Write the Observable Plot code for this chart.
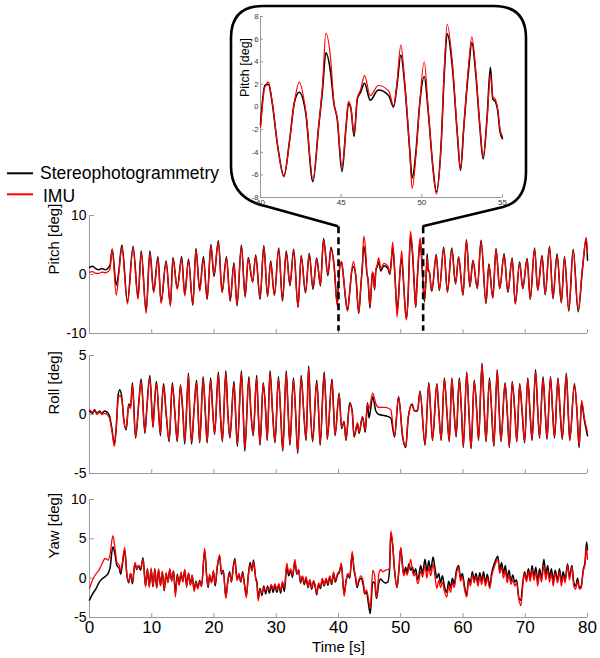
<!DOCTYPE html>
<html><head><meta charset="utf-8">
<script src="https://cdn.jsdelivr.net/npm/d3@7"></script>
<script src="https://cdn.jsdelivr.net/npm/@observablehq/plot@0.6"></script>
<style>
body{margin:0;background:#fff;}
#root{position:relative;width:600px;height:658px;overflow:hidden;font-family:"Liberation Sans",Arial,sans-serif;}
#root > svg{position:absolute;left:0;}
</style></head>
<body><div id="root"></div>
<script>
// ---------- labels, ticks ----------
const seriesNames = ["Stereophotogrammetry", "IMU"];
const seriesColors = ["#000000", "#ff0000"];
const panelLabels = ["Pitch [deg]", "Roll [deg]", "Yaw [deg]"];
const xLabel = "Time [s]";
const xTicks = [0, 10, 20, 30, 40, 50, 60, 70, 80];
const pitchTicks = [-10, 0, 10];
const rollTicks = [-5, 0, 5];
const yawTicks = [-5, 0, 5, 10];
const insetXTicks = [40, 45, 50, 55];
const insetYTicks = [-8, -6, -4, -2, 0, 2, 4, 6, 8];
const zoomWindow = [40, 55];        // inset time range
const zoomMarkers = [40, 53.6];     // dashed markers in the pitch panel
const zoomMarkerSpan = [8.1, -9.6]; // vertical extent of the markers (deg)

// ---------- Pitch ----------
const pitchTime = [
0,0.5,1.0,1.5,2.0,2.5,3.0,3.3,3.65,4.3,
4.7,5.2,6.1,7.0,7.8,8.3,9.1,9.7,10.3,11.0,
11.5,12.3,13.0,13.4,14.1,14.8,15.3,15.9,16.6,17.1,
17.7,18.3,18.9,19.5,20.0,20.7,21.3,22.0,22.6,23.2,
23.7,24.4,25.0,25.5,26.2,26.7,27.4,28.0,28.6,29.1,
29.7,30.4,31.0,31.6,32.2,32.8,33.5,34.0,34.7,35.3,
35.9,36.5,37.1,37.6,38.3,38.8,39.3,39.8,40.0,40.27,
40.5,40.7,41.1,41.45,41.8,42.1,42.4,42.8,43.25,43.6,
43.85,44.05,44.35,44.55,44.75,45.05,45.3,45.45,45.6,45.8,
46.0,46.2,46.45,46.8,47.3,47.95,48.25,48.45,48.7,48.95,
49.25,49.4,49.65,49.85,50.15,50.4,50.7,50.9,51.2,51.4,
51.57,51.9,52.2,52.4,52.6,52.9,53.1,53.35,53.6,53.8,
54.05,54.25,54.4,54.55,54.7,54.85,55.0,55.7,56.2,56.9,
57.5,58.2,58.8,59.3,60.0,60.55,61.1,61.6,62.3,62.9,
63.7,64.15,64.8,65.3,65.9,66.6,67.2,67.9,68.4,69.1,
69.6,70.3,70.8,71.5,72.0,72.7,73.2,73.9,74.45,75.1,
75.8,76.3,77.0,77.7,78.5,79.2,79.8,80.0];
const pitchStereo = [
1.2,1.4,1.0,0.8,1.0,0.8,1.1,1.6,4.3,-1.8,
0.5,5.0,-4.6,4.8,-3.9,4.0,-6.2,4.0,-2.8,3.0,
-4.7,2.3,-5.2,2.9,-2.3,3.0,-3.4,2.6,-5.2,4.4,
-2.6,3.0,-4.2,5.1,-0.3,5.7,-2.9,3.0,-4.5,2.0,
-5.3,5.0,-3.8,2.9,-1.3,3.3,-4.2,4.9,-3.7,2.3,
-3.5,4.5,-4.5,4.0,-1.9,4.3,-5.5,3.2,-3.1,3.6,
-2.5,2.8,-1.9,6.1,-0.2,4.6,1.5,-5.0,-1.6,1.9,
2.0,0.6,-3.8,-6.1,-3.0,0.4,1.3,-0.5,-6.6,-1.8,
1.6,4.8,3.0,0.3,-1.0,-5.7,-1.8,0.3,-0.1,-2.6,
0.7,1.3,2.1,0.6,1.5,1.0,0.0,1.8,4.6,1.8,
-3.8,-6.3,-3.7,0.0,2.7,-0.5,-5.5,-7.5,-3.2,3.2,
6.5,3.4,-2.4,-5.6,-1.8,3.3,5.7,2.8,-1.8,-4.6,
-0.8,3.5,0.7,0.5,-0.3,-2.2,-2.8,3.4,-2.7,4.6,
-3.0,4.5,-1.6,3.0,-3.5,5.9,-2.1,2.4,-2.4,5.8,
-4.9,1.8,-4.0,4.4,-2.4,3.5,-3.0,2.8,-5.0,2.1,
-2.4,2.7,-4.2,4.5,-2.7,3.2,-3.4,4.8,-4.1,3.5,
-4.8,3.0,-6.2,4.3,-6.3,1.0,6.0,2.4];
const pitchIMU = [
0.4,0.5,0.2,0.2,0.4,0.3,0.5,1.0,4.3,-3.5,
0.0,4.6,-5.0,4.4,-4.2,3.7,-6.6,3.6,-3.1,2.7,
-4.9,2.0,-5.4,2.7,-2.5,2.7,-3.6,2.3,-5.0,4.2,
-2.8,2.6,-4.0,4.8,0.0,5.5,-3.1,2.8,-4.3,1.7,
-5.1,4.8,-3.7,2.6,-1.2,3.1,-4.0,4.7,-3.5,2.0,
-3.5,4.3,-4.2,3.7,-1.7,4.0,-5.6,3.0,-2.9,3.4,
-2.3,2.6,-1.7,5.9,0.1,4.3,1.2,-5.3,-1.8,1.75,
2.2,0.7,-3.8,-6.2,-3.0,0.4,2.2,-0.3,-6.4,-1.8,
2.0,6.5,4.2,0.4,-0.9,-5.3,-1.8,0.5,0.0,-2.4,
0.8,1.5,2.8,1.0,1.9,1.4,0.1,2.0,5.5,2.0,
-3.9,-7.2,-4.0,0.0,4.0,-0.3,-5.6,-7.7,-3.3,3.6,
7.3,3.8,-2.3,-5.5,-1.8,3.7,6.2,3.1,-1.7,-4.4,
-0.9,2.9,0.9,0.7,-0.2,-2.0,-2.6,3.2,-2.6,4.4,
-2.9,4.3,-1.5,2.8,-3.4,5.7,-2.0,2.2,-2.3,5.6,
-4.8,1.5,-3.9,4.2,-2.3,3.3,-2.9,2.6,-4.9,1.9,
-2.3,2.5,-4.1,4.3,-2.6,3.0,-3.3,4.6,-4.0,3.3,
-4.6,2.8,-6.0,4.1,-6.0,1.2,6.3,3.6];

// ---------- Roll ----------
const rollTime = [
0,0.5,0.8,1.2,1.6,2.0,2.4,2.8,3.2,3.6,
4.0,4.3,4.6,4.85,5.2,5.5,5.9,6.3,6.6,6.9,
7.4,7.9,8.3,8.9,9.2,9.7,10.2,10.4,10.75,11.4,
11.6,11.9,12.3,12.8,13.3,13.7,14.1,14.6,15.0,15.3,
15.9,16.1,16.4,16.8,17.2,17.45,17.7,18.25,18.6,18.9,
19.45,19.8,20.1,20.7,21.0,21.35,21.9,22.2,22.55,23.2,
23.45,23.75,24.4,24.7,24.95,25.6,25.9,26.3,26.85,27.1,
27.4,27.9,28.3,28.55,29.0,29.4,29.8,30.35,30.7,31.05,
31.6,31.9,32.2,32.75,33.1,33.45,34.0,34.4,34.8,35.2,
35.5,35.85,36.5,36.8,37.05,37.7,38.0,38.2,38.95,39.2,
39.45,40.1,40.5,40.9,41.2,41.8,42.2,42.5,43.05,43.3,
43.85,44.3,44.65,44.9,45.5,46.0,46.5,47.5,48.4,49.0,
49.65,50.3,50.8,51.2,51.8,52.2,52.7,53.1,53.9,54.5,
54.8,55.1,55.8,56.1,56.5,57.0,57.4,57.8,58.2,58.55,
58.9,59.4,59.75,60.05,60.6,60.95,61.3,61.8,62.2,62.5,
63.05,63.4,63.7,64.25,64.6,64.95,65.5,65.8,66.1,66.75,
67.1,67.45,67.9,68.3,68.65,69.1,69.5,69.9,70.4,70.75,
71.1,71.65,72.0,72.3,72.85,73.2,73.5,74.05,74.4,74.7,
75.25,75.6,75.95,76.6,76.9,77.15,77.9,78.3,78.65,79.05,
79.5,80.0];
const rollStereo = [
0.3,0.1,0.4,0.1,0.3,0.1,0.3,0.2,-0.1,-1.2,
-2.5,-1.0,1.6,2.1,1.4,-0.4,-1.3,0.9,0.6,2.7,
-2.0,0.9,3.0,-1.6,0.5,3.3,-1.1,0.6,2.8,-1.8,
0.5,2.6,0.2,-2.3,2.7,0.2,-2.3,2.5,0.2,-2.5,
3.5,0.3,-2.5,0.5,2.9,0.1,-2.4,3.2,0.2,-2.4,
3.1,0.3,-1.7,3.6,0.3,-2.3,3.7,0.4,-2.0,2.8,
0.3,-2.7,3.7,0.1,-3.1,3.2,0.4,-1.8,3.3,0.3,
-2.6,2.7,0.2,-2.2,3.7,0.3,-2.4,3.2,0.2,-3.1,
3.7,0.4,-2.6,3.1,0.3,-3.3,3.3,0.3,-2.2,4.1,
0.2,-2.3,2.9,0.3,-2.6,3.6,0.5,-2.1,3.0,0.5,
-1.8,1.8,-1.2,-0.6,-2.2,1.0,0.3,-1.9,-0.8,-1.6,
-0.2,-1.5,1.0,-0.3,1.5,0.3,0.0,-0.1,-0.3,-1.9,
1.5,-1.9,-2.8,-0.3,0.9,0.3,0.3,2.0,-2.6,2.7,
0.3,-2.2,2.6,0.4,-2.2,3.1,0.3,-2.3,3.1,0.4,
-1.9,3.1,0.3,-2.8,3.6,0.2,-2.9,2.9,0.4,-2.2,
4.35,0.5,-2.3,3.1,0.3,-2.7,3.8,0.5,-2.3,2.7,
0.3,-2.8,2.8,0.4,-2.3,2.6,0.2,-2.4,3.1,0.3,
-2.2,3.8,0.4,-2.0,3.2,0.3,-2.1,3.2,0.2,-2.0,
3.1,0.3,-2.1,3.5,0.2,-2.2,2.6,0.3,-2.8,1.0,
-0.5,-1.8];
const rollIMU = [
0.4,0.2,0.3,0.0,0.2,0.0,0.1,0.0,-0.3,-1.4,
-2.7,-1.2,1.3,1.6,1.3,-0.5,-1.2,0.8,0.5,2.5,
-1.9,0.8,2.8,-1.5,0.4,3.1,-1.0,0.5,2.6,-1.6,
0.4,2.4,0.1,-2.2,2.5,0.3,-2.2,2.4,0.1,-2.3,
3.3,0.4,-2.3,0.4,2.7,0.2,-2.3,3.0,0.3,-2.3,
2.9,0.2,-1.6,3.4,0.2,-2.2,3.5,0.3,-1.9,2.6,
0.4,-2.5,3.5,0.2,-2.9,3.0,0.5,-1.7,3.1,0.2,
-2.5,2.6,0.3,-2.1,3.5,0.2,-2.3,3.0,0.3,-3.0,
3.5,0.3,-2.5,2.9,0.2,-3.2,3.1,0.4,-2.1,3.9,
0.3,-2.2,2.7,0.2,-2.5,3.4,0.4,-2.0,2.8,0.6,
-1.7,1.7,-1.1,-0.7,-2.1,0.9,0.2,-1.8,-0.7,-1.5,
-0.2,-1.3,0.9,0.5,1.8,0.9,0.6,0.6,0.4,-1.8,
1.5,-1.8,-2.7,-0.2,0.8,0.3,0.4,1.9,-2.5,2.6,
0.4,-2.1,2.5,0.3,-2.1,3.0,0.4,-2.2,3.0,0.3,
-1.8,2.9,0.4,-2.7,3.5,0.3,-2.8,2.8,0.3,-2.1,
4.2,0.6,-2.2,2.9,0.4,-2.6,3.7,0.4,-2.2,2.6,
0.4,-2.7,2.7,0.5,-2.2,2.5,0.3,-2.3,3.0,0.4,
-2.1,3.6,0.5,-1.9,3.0,0.4,-2.0,3.1,0.3,-1.9,
3.0,0.4,-2.0,3.4,0.3,-2.1,2.5,0.4,-2.6,1.2,
-0.3,-1.5];

// ---------- Yaw ----------
const yawTime = [
0,0.5,1.0,1.5,2.0,2.5,3.0,3.3,3.75,4.1,
4.4,4.8,5.0,5.3,5.65,6.0,6.3,6.6,6.9,7.3,
7.6,7.9,8.2,8.6,9.0,9.3,9.6,9.9,10.2,10.5,
10.8,11.1,11.4,11.7,12.0,12.3,12.6,12.9,13.2,13.5,
13.8,14.1,14.4,14.7,15.0,15.3,15.6,15.9,16.2,16.5,
16.8,17.1,17.4,17.7,18.0,18.5,18.8,19.05,19.3,19.6,
19.9,20.2,20.5,20.9,21.2,21.5,21.9,22.2,22.5,22.8,
23.1,23.35,23.7,24.0,24.3,24.6,24.9,25.2,25.5,25.8,
26.1,26.35,26.7,26.9,27.1,27.4,27.7,28.0,28.3,28.6,
28.9,29.2,29.5,29.8,30.1,30.4,30.7,31.0,31.3,31.7,
32.0,32.3,32.6,33.0,33.3,33.6,33.9,34.2,34.5,34.8,
35.1,35.4,35.7,36.0,36.3,36.5,36.8,37.1,37.4,37.7,
38.0,38.3,38.6,38.9,39.2,39.5,39.8,40.2,40.45,40.9,
41.2,41.5,41.8,42.2,42.5,42.7,43.0,43.2,43.6,44.0,
44.2,44.5,44.8,45.1,45.5,45.8,46.1,46.5,46.8,47.1,
47.5,47.9,48.2,48.4,48.7,49.0,49.4,49.7,50.0,50.3,
50.5,50.8,51.0,51.3,51.6,51.9,52.1,52.4,52.7,52.9,
53.2,53.5,53.9,54.2,54.5,54.8,55.2,55.5,55.8,56.1,
56.4,56.7,57.0,57.4,57.7,58.0,58.3,58.6,58.9,59.3,
59.6,59.9,60.2,60.6,60.9,61.2,61.5,61.8,62.1,62.4,
62.7,63.0,63.3,63.6,63.9,64.3,64.6,65.1,65.6,65.9,
66.2,66.5,66.8,67.1,67.4,67.7,68.0,68.3,68.6,69.0,
69.3,69.6,69.9,70.2,70.5,70.8,71.1,71.4,71.7,72.0,
72.3,72.6,73.0,73.3,73.6,73.9,74.2,74.5,74.8,75.2,
75.5,75.8,76.1,76.4,76.8,77.1,77.5,77.8,78.1,78.4,
78.7,79.0,79.3,79.6,79.85,80.0];
const yawStereo = [
-2.8,-2.0,-1.4,-0.6,-0.1,0.2,0.6,1.3,4.0,3.0,
1.6,1.2,0.5,1.8,3.6,0.4,-0.6,0.6,-0.7,1.9,
1.1,1.6,1.0,2.6,-1.0,1.2,-1.0,1.1,-1.1,1.2,
-1.2,1.0,-0.9,0.8,-1.6,0.6,-0.5,1.1,-0.3,0.9,
-1.9,0.5,-0.8,0.6,-0.4,1.0,-0.9,0.6,-0.8,0.3,
-1.5,-0.4,-1.2,-0.3,-1.0,3.5,0.5,-1.2,0.3,-0.5,
0.8,-1.0,1.2,2.8,0.5,1.0,-2.4,-0.5,0.8,-0.5,
1.5,2.5,-0.2,0.5,-0.5,0.8,-0.8,-2.2,0.3,2.0,
1.0,2.3,0.0,-0.5,-2.6,-1.3,-2.2,-1.0,-2.0,-1.0,
-1.9,-0.9,-1.8,-0.9,-1.8,-0.8,-1.9,-0.6,-1.7,1.5,
0.3,1.0,0.1,2.1,0.5,1.0,-0.6,0.2,-0.8,0.0,
-1.2,-0.3,-1.4,-0.4,-1.3,-2.1,-0.8,-1.3,-0.2,-1.0,
-0.1,-0.9,0.2,-0.8,0.6,-0.5,0.3,0.9,1.8,-2.0,
-0.5,0.5,0.0,3.1,1.0,0.2,-1.2,-0.6,0.0,-1.0,
-2.0,-1.8,-3.2,-4.5,-0.5,-0.6,-2.6,-0.5,-0.1,-0.4,
-0.6,-0.5,1.0,5.7,4.2,1.0,-1.2,1.0,3.8,1.5,
0.5,1.4,0.6,1.8,1.0,1.4,0.6,1.2,-0.2,0.3,
1.6,0.6,2.4,0.8,2.2,1.0,2.7,1.2,0.0,0.6,
-0.6,0.3,-1.0,-1.8,-0.4,-1.2,0.0,-0.8,0.8,1.6,
0.0,0.6,-0.8,-2.2,0.0,-0.6,0.8,-0.2,0.6,-0.6,
0.7,-0.4,0.8,-0.6,0.5,-1.0,0.6,2.0,2.8,1.0,
2.0,0.6,1.6,0.0,1.0,-0.4,0.4,-0.5,-0.2,-2.6,
-2.8,-0.6,0.8,-0.2,1.2,0.0,1.6,0.2,1.4,-0.4,
1.2,0.0,2.4,0.4,1.6,0.0,1.2,-0.4,1.0,-0.2,
1.2,-0.4,0.8,-0.2,1.8,0.2,1.6,-0.6,-1.0,0.0,
-1.2,-1.0,1.0,2.0,4.6,3.6];
const yawIMU = [
-1.3,-0.2,0.5,1.0,1.8,2.5,2.3,3.0,5.4,3.8,
2.0,1.6,0.9,2.1,3.9,0.5,-0.5,0.6,-0.4,2.0,
1.2,1.6,1.3,2.4,-1.1,1.1,-1.2,1.3,-1.0,1.1,
-1.3,1.2,-1.0,0.9,-1.5,0.7,-0.6,1.2,-0.4,1.0,
-2.4,0.3,-0.9,0.8,-0.5,1.1,-1.2,0.7,-0.9,0.4,
-1.7,-0.5,-1.4,-0.4,-1.1,3.8,0.4,-1.0,0.5,-0.6,
1.0,-0.7,1.4,3.0,0.7,0.9,-2.6,-0.6,0.6,-0.4,
1.3,2.3,-0.3,0.6,-0.4,0.6,-0.9,-2.5,0.2,1.7,
0.9,2.1,-0.1,-0.8,-2.9,-1.5,-1.9,-1.2,-1.6,-1.2,
-1.5,-0.8,-1.4,-0.7,-1.5,-0.7,-1.6,-0.4,-1.2,1.9,
0.6,1.2,0.4,2.4,0.6,1.1,-0.5,0.3,-0.6,0.2,
-1.1,-0.2,-1.2,-0.3,-1.1,-2.0,-0.6,-1.1,0.0,-0.9,
0.0,-0.7,0.3,-0.6,0.8,-0.3,0.5,1.0,1.9,-2.3,
-0.4,0.6,0.2,3.4,1.2,0.4,-1.0,-0.4,0.3,-0.5,
-1.9,-1.5,-2.6,-3.8,1.0,0.4,-2.4,0.6,1.1,0.8,
1.0,1.1,1.2,6.0,4.4,1.2,-1.2,1.0,3.9,1.3,
0.3,1.0,0.4,1.2,2.4,0.8,0.3,0.6,-0.7,-0.4,
0.9,0.1,1.6,0.0,1.4,0.3,1.8,0.2,-1.3,-0.3,
-1.2,-0.5,-1.6,-2.4,-1.0,-1.8,-0.6,-1.2,0.4,1.4,
-0.4,0.2,-1.2,-2.4,-0.4,-1.0,0.4,-0.6,0.2,-1.0,
0.2,-0.8,0.3,-1.0,0.0,-1.3,0.2,1.6,2.4,0.6,
1.4,0.0,1.0,-0.6,0.4,-0.8,-0.2,-1.0,-0.6,-2.8,
-3.5,-1.0,0.6,-0.5,0.8,-0.4,1.1,-0.3,0.8,-1.0,
0.6,-0.5,1.6,-0.2,1.0,-0.5,0.6,-1.0,0.6,-0.6,
0.8,-1.0,0.3,-0.6,1.6,-0.2,1.4,-1.0,-1.4,-0.4,
-1.4,-1.2,0.8,1.8,3.9,2.4];

// ---------- build rows ----------
function rows(time, s, m) {
  const n = Math.min(time.length, s.length, m.length);
  if (time.length !== s.length || time.length !== m.length) console.warn("length mismatch", time.length, s.length, m.length);
  return d3.range(n).map(i => ({t: time[i], stereo: s[i], imu: m[i]}));
}
const pitchRows = rows(pitchTime, pitchStereo, pitchIMU);
const rollRows = rows(rollTime, rollStereo, rollIMU);
const yawRows = rows(yawTime, yawStereo, yawIMU);

const root = document.getElementById("root");
const FONT = "'Liberation Sans', Arial, sans-serif";
const AX = "#9a9a9a";

function seriesMarks(data, w) {
  return [
    Plot.line(data, {x: "t", y: "stereo", stroke: seriesColors[0], strokeWidth: w[0], curve: "monotone-x"}),
    Plot.line(data, {x: "t", y: "imu", stroke: seriesColors[1], strokeWidth: w[1], curve: "monotone-x"})
  ];
}

function panel(o) {
  const marks = [
    Plot.ruleY([o.yDomain[0]], {stroke: AX}),
    Plot.ruleX([0], {stroke: AX}),
    Plot.axisX({ticks: xTicks, tickSize: -4, tickFormat: () => "", stroke: AX, label: null}),
    Plot.axisY({ticks: o.yTicks, tickSize: -5, tickFormat: () => "", stroke: AX, label: null}),
    Plot.axisY({ticks: o.yTicks, tickSize: 0, tickPadding: 3, tickFormat: d => String(d), fontSize: 14, label: null}),
    Plot.text([o.label], {frameAnchor: "left", rotate: -90, dx: -35, fontSize: 15}),
    ...seriesMarks(o.rows, [1.5, 1.3]),
    ...(o.extra || [])
  ];
  const p = Plot.plot({
    width: 600, height: o.height,
    marginLeft: 89, marginRight: 13, marginTop: o.mt, marginBottom: o.mb,
    x: {domain: [0, 80]}, y: {domain: o.yDomain},
    style: {background: "transparent", overflow: "visible", fontFamily: FONT, color: "#000"},
    marks
  });
  p.style.top = o.top + "px";
  root.appendChild(p);
  return p;
}

const pitchPlot = panel({
  rows: pitchRows, yDomain: [-10, 10], yTicks: pitchTicks, label: panelLabels[0],
  top: 200, height: 145, mt: 15, mb: 12,
  extra: [Plot.ruleX(zoomMarkers, {y1: zoomMarkerSpan[0], y2: zoomMarkerSpan[1], stroke: "#000", strokeWidth: 2.6, strokeDasharray: "7,4"})]
});
panel({rows: rollRows, yDomain: [-5, 5], yTicks: rollTicks, label: panelLabels[1], top: 345, height: 135, mt: 10, mb: 7});
panel({
  rows: yawRows, yDomain: [-5, 10], yTicks: yawTicks, label: panelLabels[2],
  top: 489, height: 169, mt: 10, mb: 41,
  extra: [
    Plot.axisX({ticks: xTicks, tickSize: 0, tickPadding: 3, tickFormat: d => String(d), fontSize: 17, label: null}),
    Plot.text([xLabel], {frameAnchor: "bottom", dy: 34, fontSize: 15})
  ]
});

// ---------- callout shape linking inset to dashed markers ----------
const sx = pitchPlot.scale("x"), sy = pitchPlot.scale("y");
const fx = sx.apply ? v => sx.apply(v) : d3.scaleLinear(sx.domain, sx.range);
const fy = sy.apply ? v => sy.apply(v) : d3.scaleLinear(sy.domain, sy.range);
const xa = fx(zoomMarkers[0]), xb = fx(zoomMarkers[1]), yt = 200 + fy(zoomMarkerSpan[0]);
const call = d3.select(root).append("svg").attr("width", 600).attr("height", 260).style("top", "0px");
call.append("path")
  .attr("d", `M${xa},${yt} L267,206.5 Q231,199 231,166 L231,38 Q231,6 263,6 L494,6 Q526,6 526,38 L526,172 Q526,201 503,207 L${xb},${yt}`)
  .attr("fill", "none").attr("stroke", "#000").attr("stroke-width", 2.6).attr("stroke-linejoin", "round");

// ---------- inset ----------
const insetRows = pitchRows.filter(d => d.t >= zoomWindow[0] && d.t <= zoomWindow[1]);
const inset = Plot.plot({
  width: 600, height: 215, marginLeft: 260, marginRight: 98, marginTop: 16, marginBottom: 18,
  x: {domain: zoomWindow}, y: {domain: [-8, 8]},
  style: {background: "transparent", overflow: "visible", fontFamily: FONT, color: "#333"},
  marks: [
    Plot.ruleY([-8], {stroke: AX}),
    Plot.ruleX([zoomWindow[0]], {stroke: AX}),
    Plot.axisX({ticks: insetXTicks, tickSize: -3, tickFormat: () => "", stroke: AX, label: null}),
    Plot.axisY({ticks: insetYTicks, tickSize: -3, tickFormat: () => "", stroke: AX, label: null}),
    Plot.axisX({ticks: insetXTicks, tickSize: 0, tickPadding: 2, tickFormat: d => String(d), fontSize: 8, label: null}),
    Plot.axisY({ticks: insetYTicks, tickSize: 0, tickPadding: 2, tickFormat: d => String(d), fontSize: 7.5, label: null}),
    Plot.text([panelLabels[0]], {frameAnchor: "left", rotate: -90, dx: -16, dy: -10, fontSize: 12.5, fill: "#000"}),
    ...seriesMarks(insetRows, [1.6, 1.2])
  ]
});
inset.style.top = "0px";
root.appendChild(inset);

// ---------- legend ----------
const leg = d3.select(root).append("svg").attr("width", 240).attr("height", 60).style("top", "155px");
const legLineY = [18.3, 39.3], legTextX = [40, 43], legTextY = [24.3, 46.7];
seriesNames.forEach((name, i) => {
  leg.append("line").attr("x1", 7).attr("x2", 33).attr("y1", legLineY[i]).attr("y2", legLineY[i])
    .attr("stroke", seriesColors[i]).attr("stroke-width", 2);
  leg.append("text").attr("x", legTextX[i]).attr("y", legTextY[i]).text(name)
    .attr("font-size", 17.5).attr("font-family", FONT).attr("fill", "#000");
});
</script>
</body></html>
